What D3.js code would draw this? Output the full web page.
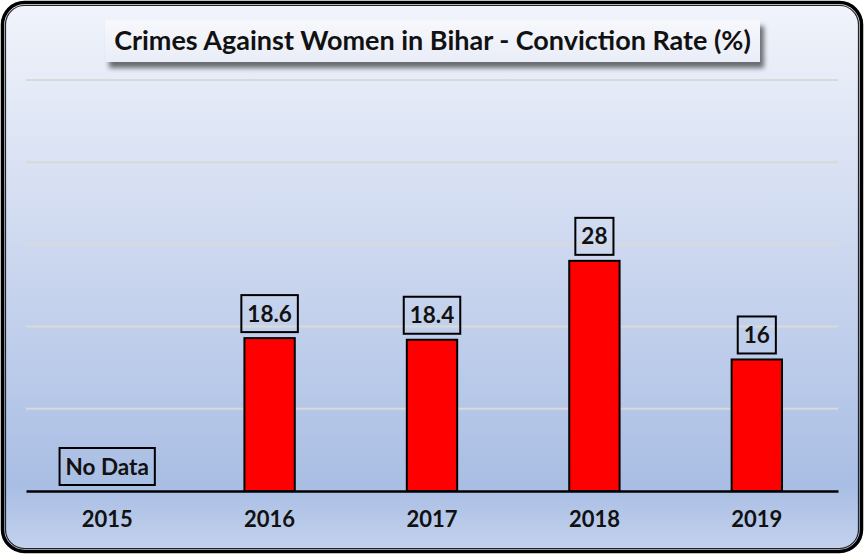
<!DOCTYPE html>
<html><head><meta charset="utf-8">
<script src="https://cdn.jsdelivr.net/npm/d3@7"></script>
<style>html,body{margin:0;padding:0;background:#fff;}svg{display:block;}</style>
</head><body>
<svg id="c" width="864" height="554"></svg>
<script>
const title = "Crimes Against Women in Bihar - Conviction Rate (%)";
const categories = ["2015", "2016", "2017", "2018", "2019"];
const values = [null, 18.6, 18.4, 28, 16];
const valueLabels = ["No Data", "18.6", "18.4", "28", "16"];
const yTicks = [0, 10, 20, 30, 40, 50];

const W = 864, H = 554;
const svg = d3.select("#c");
const defs = svg.append("defs");
const bg = defs.append("linearGradient").attr("id","bg").attr("x1",0).attr("y1",0).attr("x2",0).attr("y2",1);
bg.append("stop").attr("offset","0%").attr("stop-color","#f1f4fb");
bg.append("stop").attr("offset","50%").attr("stop-color","#c9d5ee");
bg.append("stop").attr("offset","88%").attr("stop-color","#a9bee4");
bg.append("stop").attr("offset","100%").attr("stop-color","#c4d2ed");
const tg = defs.append("linearGradient").attr("id","tg").attr("x1",0).attr("y1",0).attr("x2",0).attr("y2",1);
tg.append("stop").attr("offset","0%").attr("stop-color","#f7f8fc");
tg.append("stop").attr("offset","100%").attr("stop-color","#e9edf7");
const f = defs.append("filter").attr("id","sh").attr("x","-10%").attr("y","-30%").attr("width","130%").attr("height","200%");
f.append("feGaussianBlur").attr("in","SourceAlpha").attr("stdDeviation",2.5).attr("result","b");
f.append("feOffset").attr("in","b").attr("dx",4).attr("dy",6).attr("result","o");
f.append("feComponentTransfer").attr("in","o").attr("result","o2").append("feFuncA").attr("type","linear").attr("slope",0.55);
const m = f.append("feMerge"); m.append("feMergeNode").attr("in","o2"); m.append("feMergeNode").attr("in","SourceGraphic");

// background and border
svg.append("rect").attr("x",2.5).attr("y",2.5).attr("width",W-5).attr("height",H-5).attr("rx",22)
  .attr("fill","url(#bg)").attr("stroke","#000").attr("stroke-width",3.5);
svg.append("rect").attr("x",5.5).attr("y",5.5).attr("width",W-11).attr("height",H-11).attr("rx",19)
  .attr("fill","none").attr("stroke","#222").attr("stroke-width",1.2);

const font = "Lato, 'Open Sans', sans-serif";
const x = d3.scaleBand().domain(categories).range([26, 838]).padding(0);
const y = d3.scaleLinear().domain([0, 50]).range([491, 80]);

// gridlines
svg.append("g").selectAll("line").data(yTicks.filter(t => t > 0)).join("line")
  .attr("x1", 26).attr("x2", 838).attr("y1", d => y(d)).attr("y2", d => y(d))
  .attr("stroke", "#d9d9d9").attr("stroke-width", 2);

// bars
const bw = x.bandwidth() * 0.31;
const data = categories.map((c, i) => ({c, v: values[i], l: valueLabels[i]}));
svg.append("g").selectAll("rect").data(data.filter(d => d.v != null)).join("rect")
  .attr("x", d => x(d.c) + x.bandwidth()/2 - bw/2).attr("width", bw)
  .attr("y", d => y(d.v)).attr("height", d => y(0) - y(d.v))
  .attr("fill", "#ff0000").attr("stroke", "#000").attr("stroke-width", 2);

// baseline axis
const ax = svg.append("g").attr("transform", `translate(0,${y(0)})`)
  .call(d3.axisBottom(x).tickSize(0).tickPadding(20));
ax.select(".domain").attr("stroke", "#000").attr("stroke-width", 2.5);
ax.selectAll("text").attr("font-family", font).attr("font-weight", "bold").attr("font-size", 22).attr("fill", "#111");

// value labels
const lg = svg.append("g").selectAll("g").data(data).join("g");
lg.each(function(d){
  const g = d3.select(this);
  const cx = x(d.c) + x.bandwidth()/2;
  const top = y(d.v == null ? 0 : d.v);
  const t = g.append("text").attr("x", cx).attr("y", top - 16.5).attr("text-anchor","middle")
    .attr("font-family", font).attr("font-weight","bold").attr("font-size", 22.5).attr("fill","#111").text(d.l);
  const w = t.node().getComputedTextLength();
  g.insert("rect","text").attr("x", cx - w/2 - 6).attr("y", top - 43).attr("width", w + 12).attr("height", 37)
    .attr("fill","none").attr("stroke","#000").attr("stroke-width",2);
});

// title
const tgp = svg.append("g");
tgp.append("rect").attr("x",105).attr("y",20).attr("width",655).attr("height",42)
  .attr("fill","url(#tg)").attr("filter","url(#sh)");
const tt = tgp.append("text").attr("x",432.5).attr("y",50).attr("text-anchor","middle")
  .attr("font-family",font).attr("font-weight","bold").attr("font-size",23).attr("fill","#111").text(title);
const tw = tt.node().getComputedTextLength();
tt.attr("font-size", 23 * 637 / tw);
</script>
</body></html>
